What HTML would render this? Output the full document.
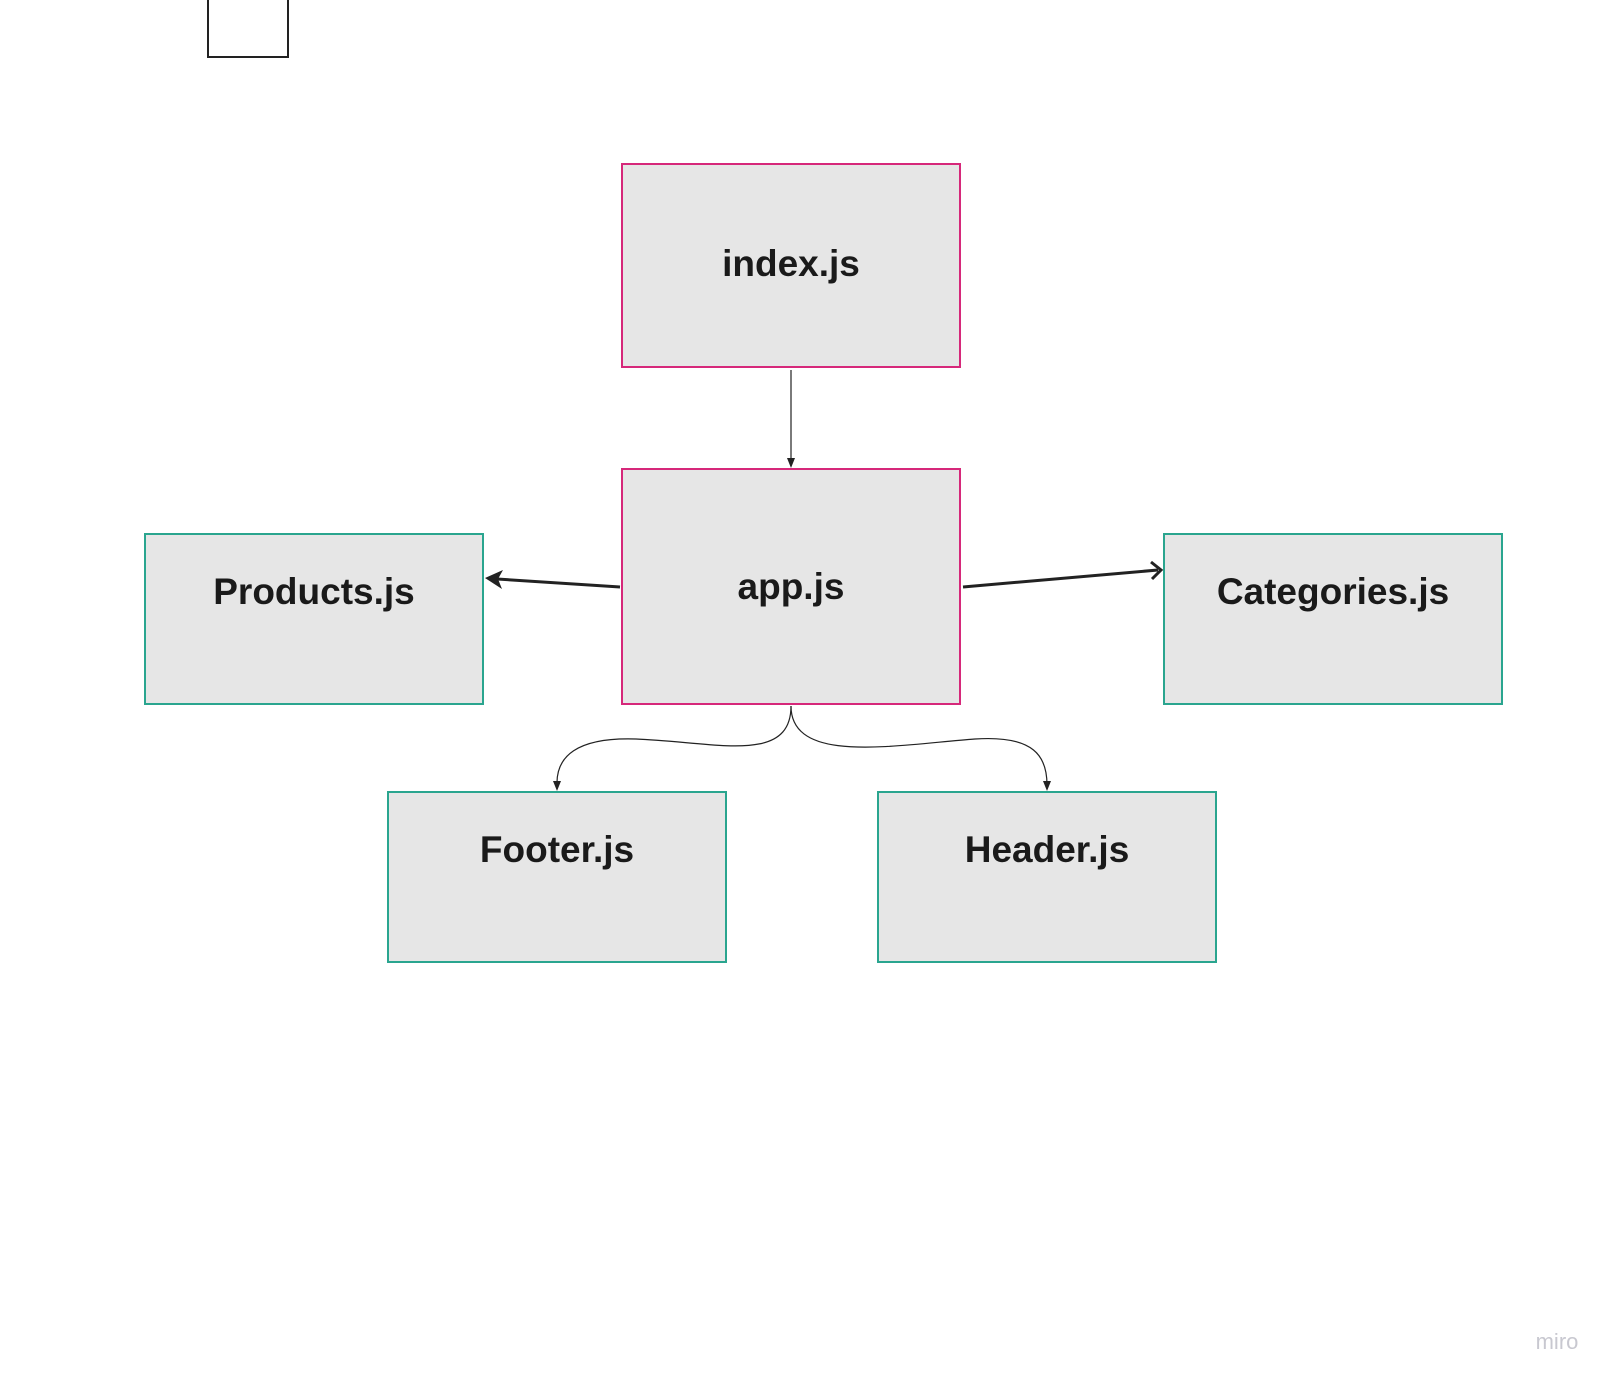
<!DOCTYPE html>
<html><head><style>
body{margin:0;width:1622px;height:1386px;background:#fff;position:relative;overflow:hidden;font-family:"Liberation Sans",sans-serif}
.b{position:absolute;box-sizing:border-box;background:#e6e6e6;text-align:center;font-weight:bold;font-size:37px;color:#1a1a1a}
.p{border:2px solid #d6287a}
.g{border:2px solid #2aa58f}
</style></head><body>
<div style="position:absolute;left:207px;top:-5px;width:82px;height:63px;box-sizing:border-box;border:2px solid #222"></div>
<div class="b p" style="left:621px;top:163px;width:340px;height:205px;line-height:198px">index.js</div>
<div class="b p" style="left:621px;top:468px;width:340px;height:237px;line-height:233px">app.js</div>
<div class="b g" style="left:144px;top:533px;width:340px;height:172px;padding-top:36px">Products.js</div>
<div class="b g" style="left:1163px;top:533px;width:340px;height:172px;padding-top:36px">Categories.js</div>
<div class="b g" style="left:387px;top:791px;width:340px;height:172px;padding-top:36px">Footer.js</div>
<div class="b g" style="left:877px;top:791px;width:340px;height:172px;padding-top:36px">Header.js</div>
<svg width="1622" height="1386" style="position:absolute;left:0;top:0">
<g stroke="#222" fill="none">
<line x1="791" y1="370" x2="791" y2="459" stroke-width="1.2"/>
<path d="M791 706 C791 765 715 742 636 739 C576 737 556 757 557 785" stroke-width="1.2"/>
<path d="M791 706 C791 765 895 745 975 739 C1035 735 1047 757 1047 785" stroke-width="1.2"/>
<line x1="620" y1="587" x2="497" y2="579" stroke-width="3"/>
<line x1="963" y1="587" x2="1158" y2="570" stroke-width="3"/>
<path d="M1151 562 L1161 570 L1152 579" stroke-width="3"/>
</g>
<g fill="#222">
<polygon points="787,458 795,458 791,468"/>
<polygon points="553,781 561,781 557,791"/>
<polygon points="1043,781 1051,781 1047,791"/>
<polygon points="485,578 503,570 498,579 502,589"/>
</g>
<text x="1557" y="1349" font-family="Liberation Sans,sans-serif" font-size="22" fill="#c8c8d0" text-anchor="middle">miro</text>
</svg>
</body></html>
